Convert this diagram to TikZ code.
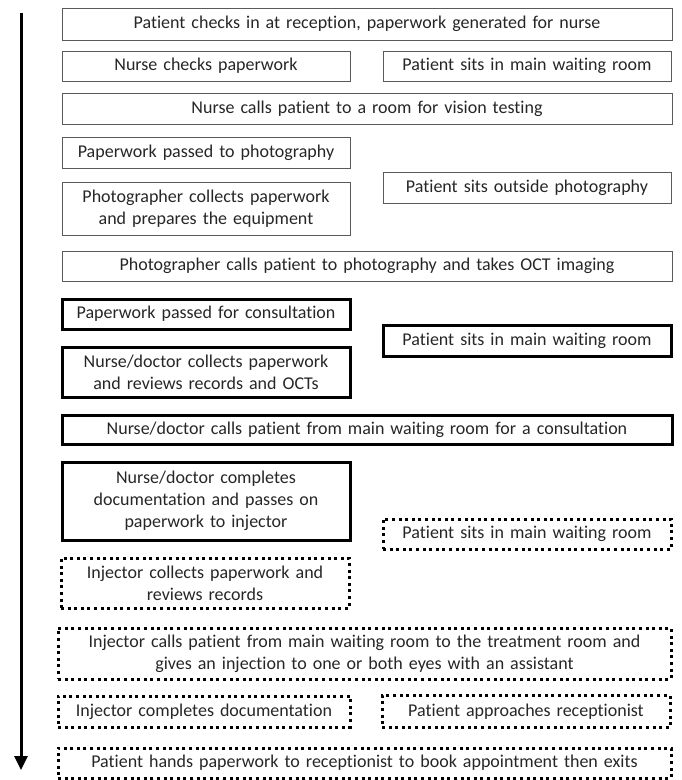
\documentclass[tikz,border=0pt]{standalone}
\usepackage{fontspec}
\setmainfont{Carlito}[RawFeature=-liga]
\usetikzlibrary{arrows.meta,positioning}
\definecolor{boxgray}{HTML}{5A5A5A}
\definecolor{textgray}{HTML}{262626}
\tikzset{
  stepbase/.style={
    anchor=north west,
    align=center,
    inner xsep=0pt,
    inner ysep=2pt,
    outer sep=0pt,
    text=textgray,
    font=\fontsize{18}{22}\selectfont
  },
  thinbox/.style={stepbase, draw=boxgray, line width=1pt},
  thickbox/.style={stepbase, draw=black, line width=3pt},
  dotbox/.style={stepbase, draw=black, line width=3pt, dash pattern=on 3pt off 3.6pt},
  fullw/.style={text width=610pt},
  halfw/.style={text width=288pt},
  timearrow/.style={-{Triangle[length=14pt,width=13pt]}, line width=3pt}
}
\begin{document}
\begin{tikzpicture}[x=1pt,y=-1pt]
  \useasboundingbox (0,0) rectangle (681,780);

  % time runs downwards
  \coordinate (tstart) at (21,13);
  \coordinate (tend) at (21,770);
  \draw[timearrow] (tstart) -- (tend);

  % check-in and vision testing
  \node[thinbox,fullw,minimum height=32pt] (b1) at (62,8) {Patient checks in at reception, paperwork generated for nurse};
  \node[thinbox,halfw,minimum height=30pt,below right=11pt and 0pt of b1.south west] (b2) {Nurse checks paperwork};
  \node[thinbox,halfw,minimum height=30pt,right=33pt of b2] (r2) {Patient sits in main waiting room};
  \node[thinbox,fullw,minimum height=31pt,below right=12pt and 0pt of b2.south west] (b3) {Nurse calls patient to a room for vision testing};

  % photography
  \node[thinbox,halfw,minimum height=31pt,below right=13pt and 0pt of b3.south west] (b4) {Paperwork passed to photography};
  \node[thinbox,halfw,minimum height=53pt,below right=14pt and 0pt of b4.south west] (b5) {Photographer collects paperwork\\and prepares the equipment};
  \node[thinbox,halfw,minimum height=31pt] (r5) at (383,172) {Patient sits outside photography};
  \node[thinbox,fullw,minimum height=30pt,below right=16pt and 0pt of b5.south west] (b6) {Photographer calls patient to photography and takes OCT imaging};

  % consultation
  \node[thickbox,halfw,minimum height=30pt,below right=18pt and 0pt of b6.south west] (b7) {Paperwork passed for consultation};
  \node[thickbox,halfw,minimum height=50pt,below right=18pt and 0pt of b7.south west] (b8) {Nurse/doctor collects paperwork\\and reviews records and OCTs};
  \node[thickbox,halfw,minimum height=31pt] (r8) at (383,325) {Patient sits in main waiting room};
  \node[thickbox,fullw,minimum height=29pt,below right=18pt and 0pt of b8.south west] (b9) {Nurse/doctor calls patient from main waiting room for a consultation};
  \node[thickbox,halfw,minimum height=78pt,below right=18pt and 0pt of b9.south west] (b10) {Nurse/doctor completes\\documentation and passes on\\paperwork to injector};

  % injection
  \node[dotbox,halfw,minimum height=30pt] (r10) at (383,519) {Patient sits in main waiting room};
  \node[dotbox,halfw,minimum height=50pt] (b11) at (61,558) {Injector collects paperwork and\\reviews records};
  \node[dotbox,text width=613pt,minimum height=51pt,below right=20pt and -3pt of b11.south west] (b12) {Injector calls patient from main waiting room to the treatment room and\\gives an injection to one or both eyes with an assistant};
  \node[dotbox,text width=292pt,minimum height=31pt,below right=17pt and 0pt of b12.south west] (b13) {Injector completes documentation};
  \node[dotbox,halfw,minimum height=32pt,right=32pt of b13] (r13) {Patient approaches receptionist};
  \node[dotbox,text width=613pt,minimum height=30pt,below right=21pt and 0pt of b13.south west] (b14) {Patient hands paperwork to receptionist to book appointment then exits};
\end{tikzpicture}
\end{document}
